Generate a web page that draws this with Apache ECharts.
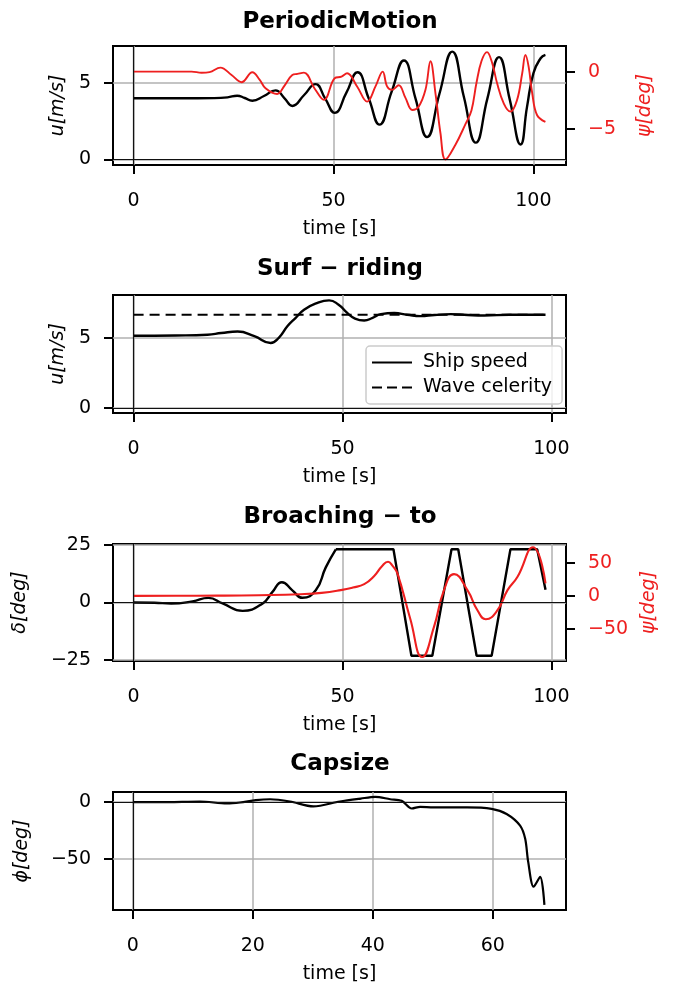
<!DOCTYPE html>
<html>
<head>
<meta charset="utf-8">
<title>Ship motion modes</title>
<script src="https://cdn.jsdelivr.net/npm/echarts@6/dist/echarts.min.js"></script>
<style>
html, body { margin: 0; padding: 0; background: #fff; }
#chart { width: 675px; height: 983px; }
</style>
</head>
<body>
<div id="chart"></div>
<script>
// PeriodicMotion: [time s, u m/s] and [time s, psi deg]
var periodicSpeed = [[0,4.0],[12,4.0],[20,4.01],[23.5,4.06],[25.9,4.17],[27.8,4.02],[29.7,3.84],[32.6,4.15],[35.5,4.52],[37.7,4.02],[39.7,3.5],[42.6,4.2],[45.5,4.93],[47.9,4.0],[50.3,3.05],[53.2,4.35],[56.0,5.7],[58.8,4.0],[61.5,2.28],[64.5,4.4],[67.6,6.47],[70.5,4.0],[73.4,1.47],[76.5,4.3],[79.7,7.05],[82.6,4.1],[85.6,1.1],[88.5,4.0],[91.4,6.69],[94.1,3.9],[96.8,0.98],[98.4,3.44],[100,5.64],[101.8,6.62],[103,6.84]];
var periodicHeading = [[0,0],[14.5,0],[17,-0.1],[19,-0.05],[21.7,0.35],[24.5,-0.3],[27,-0.93],[29.7,-0.06],[31.5,-0.7],[33,-1.46],[35.9,-1.96],[37.8,-1.2],[39.7,-0.3],[41,-0.2],[42.6,-0.09],[45.3,-1.5],[47.6,-2.48],[50.3,-0.58],[52,-0.45],[53.4,-0.15],[55.9,-1.3],[58.4,-2.63],[60.5,-1.3],[62.3,0.0],[63.4,-1.3],[64.6,-1.6],[66.3,-1.2],[68,-2.3],[69.7,-3.36],[71.3,-3.07],[73,-1.6],[74.25,0.9],[75.5,-1.9],[76.75,-5.4],[78,-7.7],[80.5,-6.4],[83,-4.6],[84.5,-3.4],[85.75,-1.0],[87,0.9],[88.4,1.7],[89.7,0.73],[90.9,-1.0],[92.6,-2.8],[94.25,-3.5],[95.9,-2.5],[97.2,-0.15],[98,1.45],[98.8,0.44],[99.7,-1.9],[100.9,-3.8],[103,-4.4]];

// Surf-riding
var surfSpeed = [[0,5.13],[10,5.15],[17.7,5.2],[21,5.32],[24.9,5.43],[28.9,5.1],[32.8,4.62],[34.8,5.0],[36.8,5.8],[38.8,6.4],[40.8,6.97],[43.5,7.4],[46.8,7.64],[49,7.35],[51.2,6.73],[53,6.35],[55.2,6.21],[57.2,6.4],[59.2,6.66],[62.4,6.74],[65.5,6.62],[68.7,6.52],[72,6.6],[75.9,6.66],[80,6.6],[83.9,6.57],[90,6.62],[98.6,6.62]];
var surfCelerity = [[0,6.62],[98.6,6.62]];

// Broaching-to: rudder (smooth part, then saturated part) and heading
var broachRudderWave = [[0,0],[5,-0.1],[9,-0.45],[14.1,0.5],[17.9,2.0],[21.3,-0.4],[26.1,-3.65],[30.9,-0.4],[33.2,4.5],[35.5,8.85],[38,5.3],[40.4,2.05],[43.6,5.3],[46,15.3],[48.4,23.2]];
var broachRudderLimit = [[48.4,23.2],[62.2,23.2],[66.5,-23.2],[71.5,-23.2],[76.1,23.2],[77.7,23.2],[82.1,-23.2],[85.7,-23.2],[90.2,23.2],[96.6,23.2],[98.6,5.6]];
var broachHeading = [[0,0],[10,0.1],[20,0.3],[30,1.0],[40,2.5],[45,4.5],[49.6,8.6],[52.5,12.5],[55.2,17.6],[57.6,30],[59.5,45],[60.9,51.3],[62,45],[63.15,33.8],[66.2,-34],[69.1,-92],[71.9,-46.7],[74.3,8.6],[76.7,32.7],[79.9,8.6],[82.3,-21.6],[84.3,-35.1],[87.1,-21.6],[89.5,8.6],[91.9,28.7],[95.6,73],[98.6,18.7]];

// Capsize: roll
var capsizeRoll = [[0,0],[6,0.1],[11.2,0.6],[15.7,-1.2],[17.9,-0.3],[20.5,1.8],[22.9,2.6],[26.2,0.6],[30.1,-3.8],[34.5,0.6],[38,3.2],[40.4,4.7],[42.9,2.6],[44.8,1.2],[46.5,-5.6],[47.9,-4.1],[50.1,-4.7],[55.7,-4.7],[59.8,-6.0],[62.3,-10.5],[64.55,-20.8],[65.4,-32.5],[65.9,-52.9],[66.8,-74.9],[67.9,-66.1],[68.6,-91]];

// tick labels
var timeTicks = [0, 50, 100];
var capsizeTimeTicks = [0, 20, 40, 60];
var speedTicks = [0, 5];
var periodicHeadingTicks = [-5, 0];
var rudderTicks = [-25, 0, 25];
var broachHeadingTicks = [-50, 0, 50];
var rollTicks = [-50, 0];

var titles = ['PeriodicMotion', 'Surf \u2212 riding', 'Broaching \u2212 to', 'Capsize'];

var FONT = 'DejaVu Sans';
var RED = '#ee1f1f';

function minus(v) {
    return String(v).replace('-', '\u2212');
}

function xAxisFor(g, min, max, ticks) {
    return {
        type: 'value', gridIndex: g, min: min, max: max,
        axisLine: { show: false, onZero: false },
        axisTick: { show: true, length: 9, lineStyle: { color: '#000', width: 2 }, customValues: ticks },
        axisLabel: { customValues: ticks, margin: 27, fontSize: 19, fontFamily: FONT, color: '#000', formatter: minus },
        splitLine: { show: true, lineStyle: { color: '#b0b0b0', width: 1.5 } },
        name: 'time [s]', nameLocation: 'middle', nameGap: 55,
        nameTextStyle: { fontSize: 19, fontFamily: FONT, color: '#000' }
    };
}

function yAxisFor(g, min, max, ticks, side, name, gap, color, grid) {
    return {
        type: 'value', gridIndex: g, min: min, max: max, position: side,
        axisLine: { show: false, onZero: false },
        axisTick: { show: true, length: 9, lineStyle: { color: '#000', width: 2 }, customValues: ticks },
        axisLabel: { customValues: ticks, margin: 22, fontSize: 19, fontFamily: FONT, color: color, formatter: minus },
        splitLine: { show: grid, lineStyle: { color: '#b0b0b0', width: 1.5 } },
        name: name, nameLocation: 'middle', nameGap: gap,
        nameTextStyle: { fontSize: 19, fontFamily: FONT, fontStyle: 'italic', color: color }
    };
}

function zeroLines() {
    return {
        silent: true, symbol: ['none', 'none'], label: { show: false },
        lineStyle: { color: '#111', width: 1.2, type: 'solid' },
        emphasis: { disabled: true },
        data: [{ xAxis: 0 }, { yAxis: 0 }]
    };
}

function line(name, data, xi, yi, color, width, smooth, extra) {
    var s = {
        name: name, type: 'line', data: data, xAxisIndex: xi, yAxisIndex: yi,
        symbol: 'none', showSymbol: false, smooth: smooth,
        lineStyle: { color: color, width: width }, itemStyle: { color: color },
        emphasis: { disabled: true }
    };
    for (var k in extra) s[k] = extra[k];
    return s;
}

var boxes = [46, 295, 544, 792];
var titleTops = [11, 258, 506, 753];

var option = {
    animation: false,
    backgroundColor: '#fff',
    title: titles.map(function(t, i) {
        return {
            text: t, left: 340, top: titleTops[i], textAlign: 'center', padding: 0,
            textStyle: { fontSize: 23, fontWeight: 'bold', fontFamily: FONT, color: '#000' }
        };
    }),
    grid: boxes.map(function(top, i) {
        return {
            left: 113, top: top, width: 453, height: [119, 118, 117, 118][i],
            show: true, borderColor: '#000', borderWidth: 2, backgroundColor: 'transparent',
            outerBoundsMode: 'none'
        };
    }),
    legend: {
        data: [
            { name: 'Ship speed', icon: 'path://M0,0H40V2H0Z' },
            { name: 'Wave celerity', icon: 'path://M0,0H10V2H0Z M15,0H25V2H15Z M30,0H40V2H30Z' }
        ],
        orient: 'vertical', left: 366, top: 346,
        padding: [7, 10, 7, 6], itemGap: 6, itemWidth: 40, itemHeight: 2,
        backgroundColor: 'rgba(255,255,255,0.8)', borderColor: '#cccccc', borderWidth: 1.5, borderRadius: 4,
        textStyle: { fontSize: 19, fontFamily: FONT, color: '#000', padding: [0, 0, 0, 6] },
        selectedMode: false
    },
    xAxis: [
        xAxisFor(0, -5.15, 108.15, timeTicks),
        xAxisFor(1, -4.93, 103.5, timeTicks),
        xAxisFor(2, -4.93, 103.5, timeTicks),
        xAxisFor(3, -3.3, 72.2, capsizeTimeTicks)
    ],
    yAxis: [
        yAxisFor(0, -0.36, 7.42, speedTicks, 'left', 'u[m/s]', 44, '#000', true),
        yAxisFor(0, -8.18, 2.24, periodicHeadingTicks, 'right', '\u03c8[deg]', 70, RED, false),
        yAxisFor(1, -0.35, 8.02, speedTicks, 'left', 'u[m/s]', 44, '#000', true),
        yAxisFor(2, -25.5, 25.5, rudderTicks, 'left', '\u03b4[deg]', 83, '#000', true),
        yAxisFor(2, -98, 78, broachHeadingTicks, 'right', '\u03c8[deg]', 74, RED, false),
        yAxisFor(3, -95.5, 9, rollTicks, 'left', '\u03d5[deg]', 81, '#000', true)
    ],
    series: [
        line('u1', periodicSpeed, 0, 0, '#000', 2.4, 0.5, { markLine: zeroLines(), z: 3 }),
        line('psi1', periodicHeading, 0, 1, RED, 1.9, 0.4, { z: 4 }),
        line('Ship speed', surfSpeed, 1, 2, '#000', 2.4, 0.5, { markLine: zeroLines(), z: 3 }),
        line('Wave celerity', surfCelerity, 1, 2, '#000', 2.2, false, { lineStyle: { color: '#000', width: 2.2, type: [10, 6] }, z: 3 }),
        line('delta', broachRudderWave, 2, 3, '#000', 2.4, 0.5, { markLine: zeroLines(), z: 3 }),
        line('delta2', broachRudderLimit, 2, 3, '#000', 2.4, false, { z: 3 }),
        line('psi3', broachHeading, 2, 4, RED, 2.1, 0.5, { z: 4 }),
        line('phi', capsizeRoll, 3, 5, '#000', 2.2, 0.3, { markLine: zeroLines(), z: 3 })
    ]
};

var chart = echarts.init(document.getElementById('chart'), null, { renderer: 'canvas' });
chart.setOption(option);
</script>
</body>
</html>
